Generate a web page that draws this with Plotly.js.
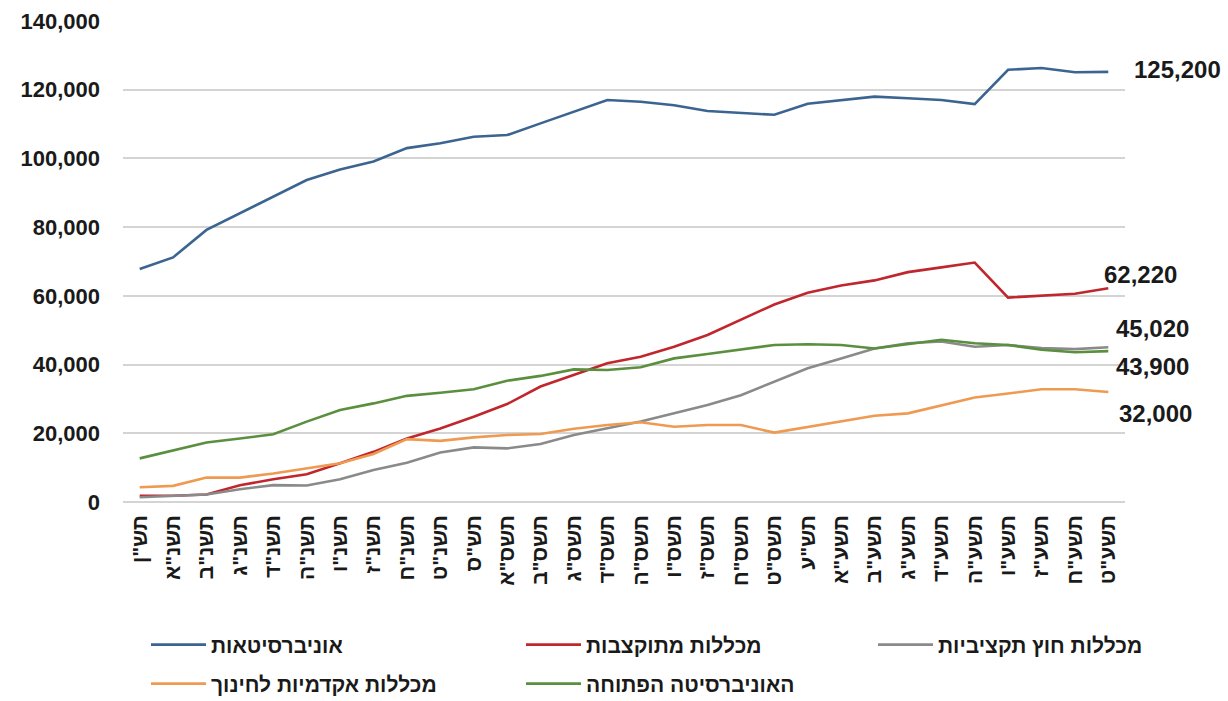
<!DOCTYPE html>
<html>
<head>
<meta charset="utf-8">
<script src="https://cdn.plot.ly/plotly-3.0.1.min.js"></script>
<style>html,body{margin:0;padding:0;background:#fff;}#chart{width:1228px;height:701px;}</style>
</head>
<body>
<div id="chart"></div>
<script>
const years = ['תש"ן','תשנ"א','תשנ"ב','תשנ"ג','תשנ"ד','תשנ"ה','תשנ"ו','תשנ"ז','תשנ"ח','תשנ"ט',
  'תש"ס','תשס"א','תשס"ב','תשס"ג','תשס"ד','תשס"ה','תשס"ו','תשס"ז','תשס"ח','תשס"ט',
  'תש"ע','תשע"א','תשע"ב','תשע"ג','תשע"ד','תשע"ה','תשע"ו','תשע"ז','תשע"ח','תשע"ט'];

const universities = [67800,71200,79200,84000,88900,93700,96800,99100,103000,104400,
  106300,106800,110200,113600,117000,116500,115500,113800,113200,112700,
  115900,116900,118000,117500,117000,115800,125800,126300,125100,125200];
const budgetedColleges = [1800,1800,2200,4900,6600,8100,11300,14600,18500,21400,
  24800,28500,33600,37000,40400,42300,45200,48600,53000,57500,
  60900,63000,64500,66900,68300,69700,59500,60100,60600,62220];
const nonBudgetedColleges = [1400,1900,2200,3700,4900,4800,6600,9300,11400,14400,
  15900,15600,16900,19500,21400,23400,25800,28200,31100,35000,
  38900,41800,44700,46200,46700,45200,45700,44800,44500,45020];
const teacherColleges = [4300,4700,7100,7100,8300,9800,11300,14000,18300,17800,
  18800,19500,19800,21300,22400,23200,21900,22400,22400,20200,
  21900,23400,25100,25800,28200,30400,31600,32800,32800,32000];
const openUniversity = [12700,15100,17300,18500,19700,23400,26800,28700,30900,31800,
  32800,35300,36700,38600,38400,39200,41800,43100,44400,45700,
  45900,45700,44700,45900,47200,46200,45700,44300,43600,43900];

const seriesNames = ['אוניברסיטאות','מכללות מתוקצבות','מכללות חוץ תקציביות','מכללות אקדמיות לחינוך','האוניברסיטה הפתוחה'];
const seriesData = [universities, budgetedColleges, nonBudgetedColleges, teacherColleges, openUniversity];
const seriesColors = ['#3b6590','#c0272d','#8a8a8a','#ef9a52','#5a8f3e'];
const legendIds = ['legend','legend2','legend3','legend4','legend5'];

const endLabels = ['125,200','62,220','45,020','32,000','43,900'];
const endShiftX = [24, -6, 6, 9, 6];
const endShiftY = [2, 14, 19, -21, -15];

const traces = seriesData.map((d, i) => ({
  type: 'scatter', mode: 'lines', x: years, y: d, name: seriesNames[i],
  legend: legendIds[i],
  line: {color: seriesColors[i], width: 2.6}
}));

const annotations = seriesData.map((d, i) => ({
  x: years[years.length - 1], y: d[d.length - 1], xref: 'x', yref: 'y',
  text: endLabels[i], showarrow: false, xanchor: 'left', yanchor: 'middle',
  xshift: endShiftX[i], yshift: endShiftY[i],
  font: {family: 'Liberation Sans, Arial, sans-serif', size: 24, color: '#1a1a1a', weight: 'bold'}
}));

function legendAt(px, py) {
  return {
    orientation: 'h', xref: 'container', yref: 'container',
    x: px / 1228, y: 1 - py / 701, xanchor: 'left', yanchor: 'middle',
    itemwidth: 55,
    font: {size: 21, color: '#1a1a1a', weight: 'bold'},
    bgcolor: 'rgba(0,0,0,0)'
  };
}

const layout = {
  width: 1228, height: 701,
  margin: {l: 123, r: 103, t: 21, b: 199, autoexpand: false},
  paper_bgcolor: '#ffffff', plot_bgcolor: '#ffffff',
  showlegend: true,
  font: {family: 'Liberation Sans, Arial, sans-serif', color: '#1a1a1a'},
  xaxis: {
    type: 'category', range: [-0.5, 29.5], tickangle: -90,
    showgrid: false, zeroline: false, showline: false, ticks: '',
    tickfont: {size: 21, color: '#1a1a1a', weight: 'bold'},
    ticklabelstandoff: 8, fixedrange: true, automargin: false
  },
  yaxis: {
    range: [0, 140000], dtick: 20000, tickformat: ',d',
    showgrid: true, gridcolor: '#d4d4d4', gridwidth: 2,
    zeroline: true, zerolinecolor: '#d4d4d4', zerolinewidth: 2,
    showline: false, ticks: '', ticklabelstandoff: 22,
    tickfont: {size: 22, color: '#1a1a1a', weight: 'bold'}, fixedrange: true, automargin: false
  },
  legend: legendAt(146, 645),
  legend2: legendAt(521, 645),
  legend3: legendAt(873, 645),
  legend4: legendAt(146, 684),
  legend5: legendAt(521, 684),
  annotations: annotations
};

Plotly.newPlot('chart', traces, layout, {displayModeBar: false, staticPlot: true});
</script>
</body>
</html>
